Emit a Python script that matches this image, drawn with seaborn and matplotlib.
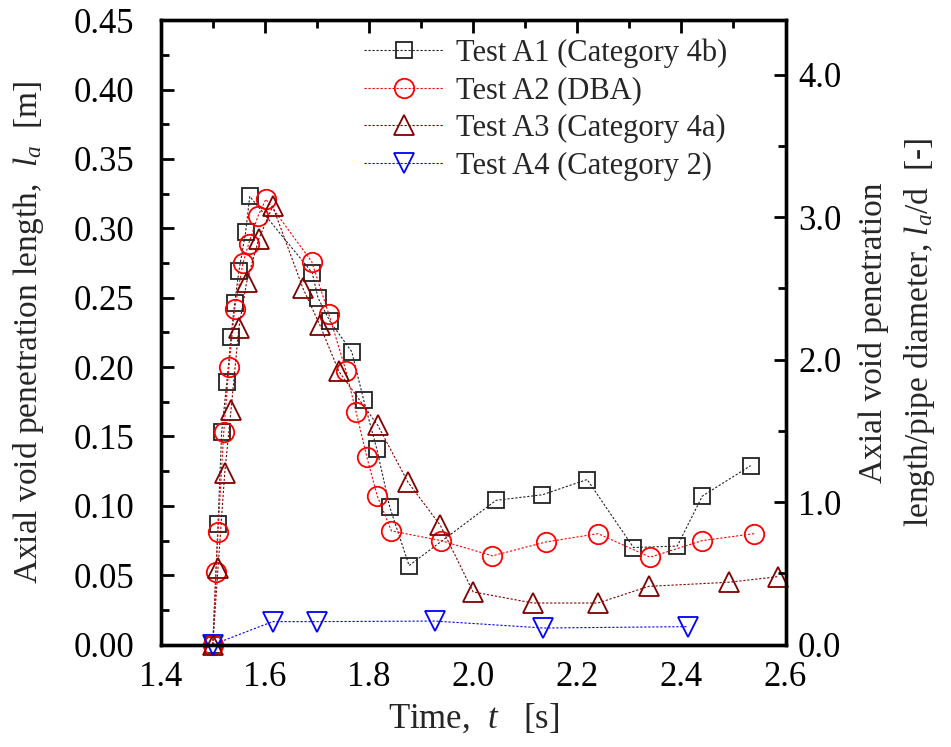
import numpy as np
import pandas as pd
import matplotlib
matplotlib.use("Agg")
import matplotlib.pyplot as plt
import seaborn as sns
from matplotlib.ticker import MultipleLocator, FormatStrFormatter

sns.set_theme(style="white")
plt.rcParams['font.family'] = 'serif'
plt.rcParams['font.serif'] = ['Liberation Serif', 'DejaVu Serif']
plt.rcParams['mathtext.fontset'] = 'custom'
plt.rcParams['mathtext.rm'] = 'Liberation Serif'
plt.rcParams['mathtext.it'] = 'Liberation Serif:italic'

# ---- data ----
a1_t = [1.500, 1.510, 1.517, 1.527, 1.535, 1.542, 1.550, 1.563, 1.571, 1.691, 1.702,
        1.725, 1.767, 1.790, 1.815, 1.840, 1.877, 2.044, 2.133, 2.219, 2.308, 2.392, 2.440, 2.533]
a1_l = [0.000, 0.087, 0.153, 0.189, 0.222, 0.246, 0.269, 0.297, 0.323, 0.268, 0.250,
        0.233, 0.211, 0.176, 0.141, 0.099, 0.057, 0.104, 0.108, 0.119, 0.070, 0.071, 0.107, 0.129]

a2_t = [1.500, 1.506, 1.510, 1.521, 1.531, 1.542, 1.558, 1.569, 1.587, 1.602, 1.690,
        1.723, 1.756, 1.775, 1.796, 1.816, 1.843, 1.938, 2.037, 2.140, 2.240, 2.340, 2.440, 2.540]
a2_l = [0.000, 0.052, 0.081, 0.153, 0.200, 0.242, 0.275, 0.289, 0.309, 0.321, 0.276,
        0.238, 0.197, 0.168, 0.135, 0.107, 0.082, 0.075, 0.064, 0.074, 0.080, 0.063, 0.075, 0.080]

a3_t = [1.500, 1.510, 1.523, 1.535, 1.550, 1.565, 1.588, 1.615, 1.673, 1.706, 1.742,
        1.817, 1.875, 1.937, 2.000, 2.115, 2.240, 2.337, 2.492, 2.585]
a3_l = [0.000, 0.055, 0.124, 0.169, 0.228, 0.261, 0.292, 0.316, 0.257, 0.230, 0.197,
        0.158, 0.117, 0.086, 0.038, 0.030, 0.030, 0.042, 0.045, 0.049]

a4_t = [1.500, 1.615, 1.700, 1.927, 2.135, 2.412]
a4_l = [0.000, 0.0166, 0.0166, 0.017, 0.012, 0.013]

labels = ["Test A1 (Category 4b)", "Test A2 (DBA)", "Test A3 (Category 4a)", "Test A4 (Category 2)"]
pipe_d = 0.1027  # m

series = [
    (a1_t, a1_l, "#222222", "s", 12),
    (a2_t, a2_l, "#ff0000", "o", 14),
    (a3_t, a3_l, "#800000", "^", 15),
    (a4_t, a4_l, "#0000ff", "v", 15),
]

fig = plt.figure(figsize=(9.51, 7.47), dpi=100)
ax = fig.add_axes([0.169, 0.137, 0.657, 0.836])

for (t, l, c, m, ms), lab in zip(series, labels):
    df = pd.DataFrame({"t": t, "l": l})
    sns.lineplot(data=df, x="t", y="l", ax=ax, estimator=None, sort=False,
                 color=c, linestyle=(0, (2.0, 1.6)), linewidth=0.8,
                 marker=m, markersize=ms, markerfacecolor="none",
                 markeredgecolor=c, markeredgewidth=1.3, label=lab, clip_on=False)

ax.set_xlim(1.4, 2.6)
ax.set_ylim(0, 0.45)
ax.xaxis.set_major_locator(MultipleLocator(0.2))
ax.xaxis.set_minor_locator(MultipleLocator(0.1))
ax.yaxis.set_major_locator(MultipleLocator(0.05))
ax.yaxis.set_minor_locator(MultipleLocator(0.025))
ax.xaxis.set_major_formatter(FormatStrFormatter('%.1f'))
ax.yaxis.set_major_formatter(FormatStrFormatter('%.2f'))
ax.tick_params(axis='both', which='both', direction='in', top=True, right=False,
               labelsize=25, colors='black', width=2)
ax.tick_params(which='major', length=9)
ax.tick_params(which='minor', length=6)
ax.tick_params(axis='x', pad=12)
ax.tick_params(axis='y', pad=19)
for s in ax.spines.values():
    s.set_linewidth(2.4)
    s.set_color('black')

ax.set_xlabel("Time,  $t$   [s]", fontsize=25, labelpad=6)
ax.set_ylabel("Axial void penetration length,  $l_a$  [m]", fontsize=24, labelpad=20)

ax2 = ax.twinx()
ax2.set_ylim(0, 0.45 / pipe_d)
ax2.yaxis.set_major_locator(MultipleLocator(1.0))
ax2.yaxis.set_minor_locator(MultipleLocator(0.5))
ax2.yaxis.set_major_formatter(FormatStrFormatter('%.1f'))
ax2.tick_params(axis='y', which='both', direction='in', labelsize=25, width=2, colors='black',
                pad=9)
ax2.tick_params(which='major', length=9)
ax2.tick_params(which='minor', length=6)
for s in ax2.spines.values():
    s.set_linewidth(2.4)
    s.set_color('black')
ax2.grid(False)
ax2.set_ylabel("Axial void penetration\nlength/pipe diameter, $l_a$/d  [-]", fontsize=24,
               labelpad=12, linespacing=1.5)

leg = ax.legend(loc='upper center', bbox_to_anchor=(0.616, 1.0), frameon=False,
                fontsize=22, handlelength=2.6, handletextpad=0.4, labelspacing=0.28,
                borderaxespad=0.2)

fig.savefig("out.png", dpi=100)
